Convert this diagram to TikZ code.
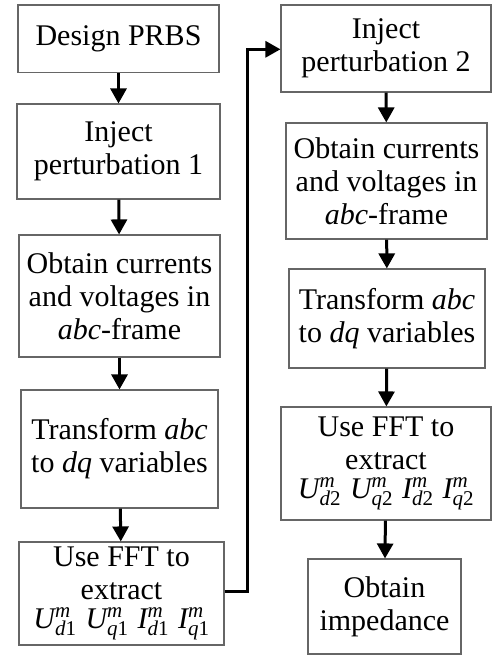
\documentclass[tikz,border=0pt]{standalone}
\usepackage{amsmath}
\usepackage{fontspec}
\setmainfont{Liberation Serif}
\usetikzlibrary{arrows.meta}
\newcommand{\VarX}[3]{$\textit{#1}^{\textit{m}}_{\textit{#2}\textup{#3}}$}
\newcommand{\VarGap}{\hspace{9pt}}
\begin{document}
\begin{tikzpicture}[x=1pt,y=-1pt,
  box/.style={draw=black!60,line width=1.1pt,align=center,inner sep=0pt,
    font=\fontsize{30}{33}\selectfont},
  flow/.style={line width=3pt,-{Triangle[length=15pt,width=16pt]}}]
\useasboundingbox (0,0) rectangle (493,656);
\node[box,minimum width=201pt,minimum height=67.6pt] (L1) at (118.5,38.8) {Design PRBS};
\node[box,minimum width=203pt,minimum height=95pt] (L2) at (118.5,151.5) {Inject\\perturbation 1};
\node[box,minimum width=201pt,minimum height=122pt] (L3) at (119.5,296) {Obtain currents\\and voltages in\\\textit{abc}-frame};
\node[box,minimum width=197pt,minimum height=118pt] (L4) at (119.5,449) {Transform \textit{abc}\\to \textit{dq} variables};
\node[box,minimum width=205pt,minimum height=103pt] (L5) at (121.5,593.5) {Use FFT to\\extract\\[-4pt]\VarX{U}{d}{1}\VarGap\VarX{U}{q}{1}\VarGap\VarX{I}{d}{1}\VarGap\VarX{I}{q}{1}};
\node[box,minimum width=210pt,minimum height=87pt] (R1) at (386,48.5) {Inject\\perturbation 2};
\node[box,minimum width=201pt,minimum height=116pt] (R2) at (386.5,181) {Obtain currents\\and voltages in\\\textit{abc}-frame};
\node[box,minimum width=196pt,minimum height=99pt] (R3) at (387,318.5) {Transform \textit{abc}\\to \textit{dq} variables};
\node[box,minimum width=210pt,minimum height=113pt] (R4) at (386,463.5) {Use FFT to\\extract\\[-4pt]\VarX{U}{d}{2}\VarGap\VarX{U}{q}{2}\VarGap\VarX{I}{d}{2}\VarGap\VarX{I}{q}{2}};
\node[box,minimum width=153pt,minimum height=95pt] (R5) at (384.5,606.5) {Obtain\\impedance};
\draw[flow] (L1) -- (L2);
\draw[flow] (L2) -- (L3);
\draw[flow] (L3) -- (L4);
\draw[flow] (L4) -- (L5);
\draw[flow] (R1) -- (R2);
\draw[flow] (R2) -- (R3);
\draw[flow] (R3) -- (R4);
\draw[flow] (R4) -- (R5);
\coordinate (c1) at (247,591);
\coordinate (c2) at (247,49.3);
\draw[flow] (L5.east |- c1) -- (c1) -- (c2) -- (R1.west |- c2);
\end{tikzpicture}
\end{document}
